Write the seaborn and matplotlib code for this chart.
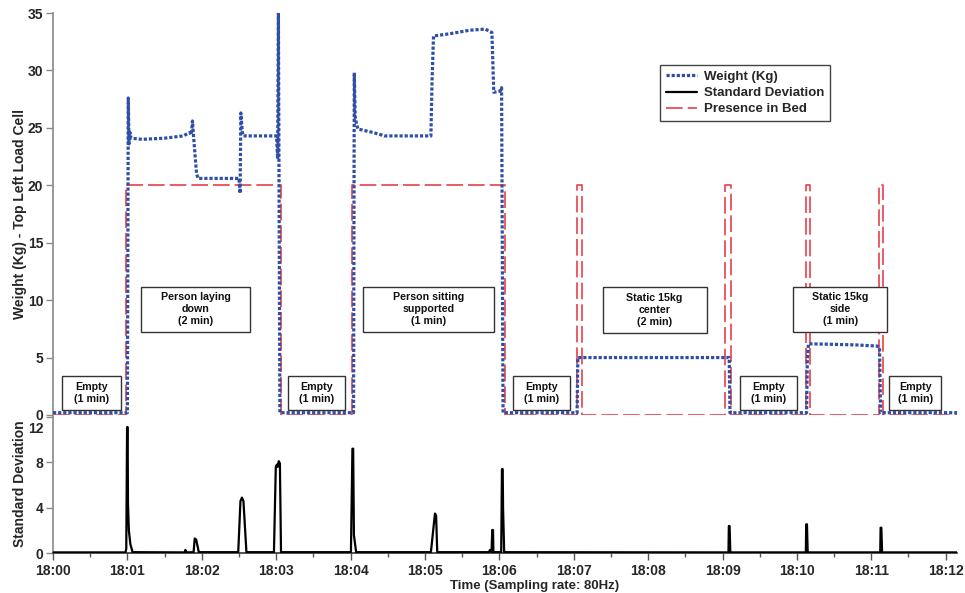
import matplotlib
matplotlib.use("Agg")
import matplotlib.pyplot as plt
import matplotlib.transforms as mtransforms
from matplotlib.lines import Line2D
from matplotlib.patches import Rectangle
from matplotlib.ticker import FixedLocator, MultipleLocator
import pandas as pd
import seaborn as sns

# ---- data (time in minutes after 18:00) ----
weight_t = [0.00, 1.000, 1.012, 1.022, 1.035, 1.05, 1.20, 1.50, 1.75, 1.84, 1.86, 1.875,
            1.89, 1.93, 1.95, 2.50, 2.515, 2.525, 2.545, 2.56, 3.005, 3.02, 3.03, 3.05,
            4.04, 4.05, 4.062, 4.08, 4.10, 4.30, 4.46, 5.08, 5.095, 5.115, 5.34, 5.60,
            5.81, 5.87, 5.90, 5.925, 6.01, 6.03, 6.05, 7.045, 7.055, 9.09, 9.10, 10.13,
            10.14, 10.155, 10.50, 10.80, 11.08, 11.11, 11.125, 12.156]
weight_kg = [0.2, 0.2, 27.6, 23.6, 24.6, 24.1, 24.0, 24.1, 24.3, 24.6, 24.4, 25.6,
             24.2, 21.0, 20.6, 20.6, 19.3, 26.3, 24.6, 24.3, 24.3, 22.3, 35.0, 0.2,
             0.2, 29.8, 26.0, 25.3, 24.9, 24.6, 24.3, 24.3, 29.0, 33.0, 33.2, 33.5,
             33.6, 33.4, 33.3, 28.1, 28.2, 28.5, 0.2, 0.2, 5.0, 5.0, 0.2, 0.2,
             4.8, 6.2, 6.15, 6.1, 6.0, 5.9, 0.2, 0.2]

std_t = [0.00, 0.975, 0.985, 0.99, 0.996, 1.003, 1.008, 1.02, 1.04, 1.07,
         1.77, 1.78, 1.79, 1.89, 1.905, 1.925, 1.96,
         2.49, 2.52, 2.54, 2.56, 2.60,
         2.97, 2.995, 3.01, 3.02, 3.035, 3.05, 3.065,
         4.005, 4.015, 4.025, 4.035, 4.045, 4.075,
         5.08, 5.12, 5.135, 5.15, 5.165,
         5.86, 5.875, 5.895, 5.905, 5.915, 5.92,
         6.025, 6.035, 6.045, 6.05, 6.065,
         9.08, 9.085, 9.095, 9.105,
         10.12, 10.125, 10.135, 10.145,
         11.12, 11.125, 11.135, 11.145, 12.156]
std_val = [0.08, 0.08, 0.4, 5.5, 11.1, 11.1, 4.4, 2.0, 0.8, 0.1,
           0.08, 0.3, 0.08, 0.1, 1.3, 1.2, 0.1,
           0.1, 4.6, 4.9, 4.6, 0.1,
           0.1, 7.6, 7.8, 7.6, 8.1, 7.9, 0.1,
           0.1, 4.6, 9.2, 9.2, 1.6, 0.1,
           0.1, 2.6, 3.5, 3.3, 0.1,
           0.1, 0.3, 0.1, 2.05, 2.05, 0.1,
           0.1, 7.4, 7.4, 4.0, 0.1,
           0.08, 2.4, 2.4, 0.08,
           0.08, 2.55, 2.55, 0.08,
           0.08, 2.25, 2.25, 0.08, 0.08]

presence_on = [0.977, 4.02, 7.04, 9.04, 10.12, 11.10]
presence_off = [3.07, 6.07, 7.11, 9.12, 10.18, 11.16]
presence_level = 20
t_end = 12.156

time_ticks = list(range(13))
time_labels = ["18:00", "18:01", "18:02", "18:03", "18:04", "18:05", "18:06",
               "18:07", "18:08", "18:09", "18:10", "18:11", "18:12"]

phase_labels = ["Empty\n(1 min)", "Person laying\ndown\n(2 min)", "Empty\n(1 min)",
                "Person sitting\nsupported\n(1 min)", "Empty\n(1 min)",
                "Static 15kg\ncenter\n(2 min)", "Empty\n(1 min)",
                "Static 15kg\nside\n(1 min)", "Empty\n(1 min)"]

# ---- build frames ----
weight_df = pd.DataFrame({"t": weight_t, "v": weight_kg})
std_df = pd.DataFrame({"t": std_t, "v": std_val})

pres_t, pres_v = [0.0], [0]
for on, off in zip(presence_on, presence_off):
    pres_t += [on, on, off, off]
    pres_v += [0, presence_level, presence_level, 0]
pres_t.append(t_end)
pres_v.append(0)
pres_df = pd.DataFrame({"t": pres_t, "v": pres_v})

# ---- style ----
sns.set_theme(style="white")
plt.rcParams["font.family"] = ["Liberation Sans", "DejaVu Sans"]
plt.rcParams["font.weight"] = "bold"

BLUE = "#2f4fa6"
RED = "#e8404a"
SPINE = "#8a8a8a"
dotted = (0, (1, 0.6))
dashed = (0, (10, 3))

fig = plt.figure(figsize=(9.65, 5.93), dpi=100)
ax = fig.add_axes([0.05492, 0.30017, 0.9371, 0.6779])
ax2 = fig.add_axes([0.05492, 0.06695, 0.9371, 0.2332], sharex=ax)

# top panel: presence + weight
sns.lineplot(data=pres_df, x="t", y="v", ax=ax, estimator=None, sort=False,
             color=RED, linewidth=1.2, linestyle=dashed, zorder=2)
sns.lineplot(data=weight_df, x="t", y="v", ax=ax, estimator=None, sort=False,
             color=BLUE, linewidth=2.3, linestyle=dotted, zorder=3)

# bottom panel: standard deviation
sns.lineplot(data=std_df, x="t", y="v", ax=ax2, estimator=None, sort=False,
             color="black", linewidth=1.6, zorder=3)

ax.set_xlim(0, t_end)
ax.set_ylim(0, 35)
ax2.set_ylim(0, 12.16)

ax.set_yticks([0, 5, 10, 15, 20, 25, 30, 35])
ax2.set_yticks([0, 4, 8, 12])
ax2.xaxis.set_major_locator(FixedLocator(time_ticks))
ax2.set_xticklabels(time_labels)
ax2.xaxis.set_minor_locator(MultipleLocator(0.5))

for a in (ax, ax2):
    for s in ("top", "right"):
        a.spines[s].set_visible(False)
    a.spines["left"].set_color(SPINE)
    a.spines["left"].set_linewidth(1.2)
    a.tick_params(axis="y", which="both", direction="out", length=5, width=1,
                  color=SPINE, labelsize=10, pad=2, left=True)
ax.spines["bottom"].set_visible(False)
ax.tick_params(axis="x", which="both", bottom=False, labelbottom=False)
ax2.spines["bottom"].set_color("#333333")
ax2.spines["bottom"].set_linewidth(1.2)
ax2.tick_params(axis="x", which="major", direction="out", length=5, width=1,
                color="#555555", labelsize=10, pad=3, bottom=True)
ax2.tick_params(axis="x", which="minor", direction="out", length=3, width=1,
                color="#555555", bottom=True)
for lab in ax.get_yticklabels() + ax2.get_yticklabels() + ax2.get_xticklabels():
    lab.set_fontweight("bold")

# nudge the top label of the lower panel away from the upper panel's zero
top_lab = ax2.get_yticklabels()[-1]
top_lab.set_transform(top_lab.get_transform() +
                      mtransforms.ScaledTranslation(0, -11 / 100, fig.dpi_scale_trans))

ax.set_xlabel("")
ax.set_ylabel("Weight (Kg) - Top Left Load Cell", fontsize=10, fontweight="bold")
ax.yaxis.set_label_coords(-0.029, 0.5)
ax2.set_ylabel("Standard Deviation", fontsize=10, fontweight="bold")
ax2.yaxis.set_label_coords(-0.029, 0.5)
ax2.set_xlabel("Time (Sampling rate: 80Hz)", fontsize=9.5, fontweight="bold")
ax2.xaxis.set_label_coords(0.532, -0.19)

# phase annotation boxes: (centre t, centre kg, width min, height kg)
box_layout = [(0.518, 1.92, 0.79, 2.96), (1.916, 9.19, 1.465, 3.92),
              (3.54, 1.92, 0.766, 2.96), (5.048, 9.19, 1.761, 3.92),
              (6.57, 1.92, 0.766, 2.96), (8.088, 9.14, 1.398, 4.06),
              (9.62, 1.92, 0.766, 2.96), (10.583, 9.19, 1.264, 3.92),
              (11.59, 1.92, 0.70, 2.96)]
for (bt, bv, bw, bh), txt in zip(box_layout, phase_labels):
    ax.add_patch(Rectangle((bt - bw / 2, bv - bh / 2), bw, bh, facecolor="white",
                           edgecolor="#333333", linewidth=1.0, zorder=5))
    ax.text(bt, bv, txt, ha="center", va="center", fontsize=7.7, fontweight="bold",
            linespacing=1.25, color="#111111", zorder=6)

handles = [Line2D([], [], color=BLUE, linewidth=2.3, linestyle=dotted),
           Line2D([], [], color="black", linewidth=1.6),
           Line2D([], [], color=RED, linewidth=1.2, linestyle=dashed)]
leg = ax.legend(handles, ["Weight (Kg)", "Standard Deviation", "Presence in Bed"],
                loc="upper left", bbox_to_anchor=(0.671, 0.871), frameon=True,
                fancybox=False, framealpha=1, edgecolor="#444444",
                prop={"size": 9.5, "weight": "bold"}, handlelength=2.4,
                handletextpad=0.5, labelspacing=0.3, borderpad=0.45,
                borderaxespad=0)
leg.get_frame().set_linewidth(1.0)

fig.savefig("out.png", dpi=100, facecolor="white")
